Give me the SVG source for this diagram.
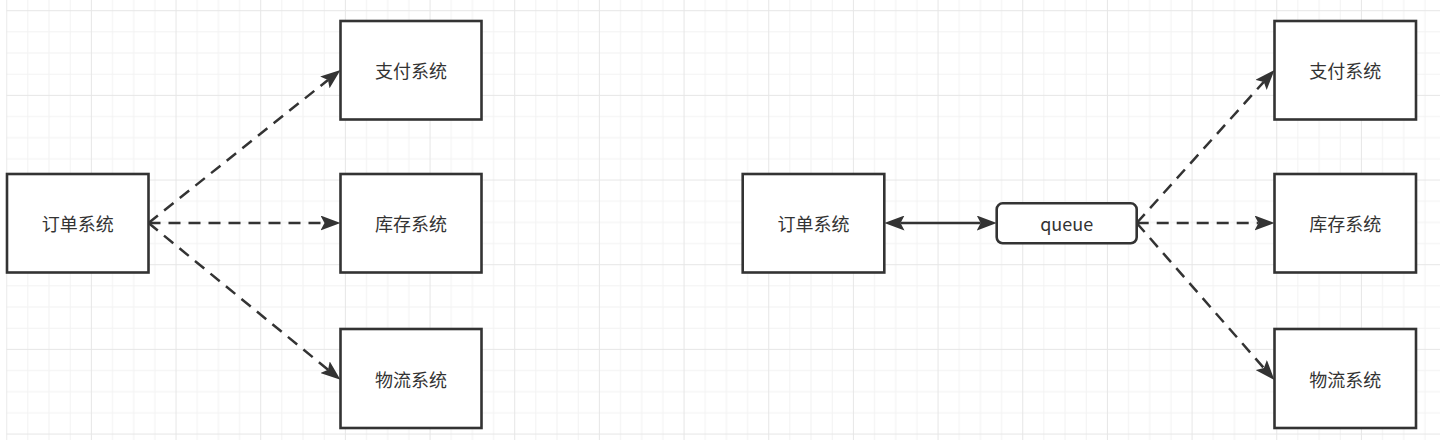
<svg xmlns="http://www.w3.org/2000/svg" width="1440" height="440" viewBox="0 0 1440 440">
<style>
.box{fill:#ffffff;stroke:#333333;stroke-width:2.6}
.lbl{font-family:"Noto Sans CJK SC","Liberation Sans",sans-serif;font-size:18px;fill:#333333;text-anchor:middle;dominant-baseline:central}
.dash{fill:none;stroke:#333333;stroke-width:2.5;stroke-dasharray:12 8}
.solid{fill:none;stroke:#333333;stroke-width:2.5}
</style>
<defs>
<pattern id="grid" x="6.2" y="10.2" width="84.67" height="84.67" patternUnits="userSpaceOnUse">
<rect x="21.17" y="0" width="1" height="84.67" fill="#f2f2f2"/>
<rect x="42.33" y="0" width="1" height="84.67" fill="#f2f2f2"/>
<rect x="63.5" y="0" width="1" height="84.67" fill="#f2f2f2"/>
<rect x="0" y="21.17" width="84.67" height="1" fill="#f2f2f2"/>
<rect x="0" y="42.33" width="84.67" height="1" fill="#f2f2f2"/>
<rect x="0" y="63.5" width="84.67" height="1" fill="#f2f2f2"/>
<rect x="0" y="0" width="1" height="84.67" fill="#e6e6e6"/>
<rect x="0" y="0" width="84.67" height="1" fill="#e6e6e6"/>
</pattern>
<marker id="arr" viewBox="0 0 20 15" refX="4" refY="7.5" markerWidth="20" markerHeight="15" markerUnits="userSpaceOnUse" orient="auto-start-reverse">
<path d="M0,0 L20,7.5 L0,15 L4,7.5 Z" fill="#333333"/>
</marker>
</defs>
<rect width="1440" height="440" fill="#ffffff"/>
<rect x="6.2" y="0" width="1434" height="440" fill="url(#grid)"/>

<g id="connectors">
<line class="dash" x1="148.5" y1="223" x2="328.0" y2="79.97" marker-end="url(#arr)"/>
<line class="dash" x1="148.5" y1="223" x2="324.5" y2="223" marker-end="url(#arr)"/>
<line class="dash" x1="148.5" y1="223" x2="328.07" y2="369.69" marker-end="url(#arr)"/>
<line class="solid" x1="900.5" y1="223" x2="980.7" y2="223" marker-start="url(#arr)" marker-end="url(#arr)"/>
<line class="dash" x1="1136.7" y1="223" x2="1263.79" y2="81.89" marker-end="url(#arr)"/>
<line class="dash" x1="1136.7" y1="223" x2="1258.5" y2="223" marker-end="url(#arr)"/>
<line class="dash" x1="1136.7" y1="223" x2="1263.89" y2="368.03" marker-end="url(#arr)"/>
</g>

<g id="order-left">
<rect class="box" x="7" y="174" width="141.5" height="98.5"/>
<text class="lbl" x="77.75" y="223">订单系统</text>
</g>
<g id="pay-left">
<rect class="box" x="340.5" y="21" width="141" height="98.5"/>
<text class="lbl" x="411" y="70">支付系统</text>
</g>
<g id="stock-left">
<rect class="box" x="340.5" y="174" width="141" height="98.5"/>
<text class="lbl" x="411" y="223">库存系统</text>
</g>
<g id="logistics-left">
<rect class="box" x="340.5" y="329" width="141" height="99"/>
<text class="lbl" x="411" y="378.5">物流系统</text>
</g>

<g id="order-right">
<rect class="box" x="742.7" y="174" width="141.6" height="98.5"/>
<text class="lbl" x="813.5" y="223">订单系统</text>
</g>
<g id="queue">
<rect class="box" x="996.7" y="203.3" width="140" height="40" rx="6" ry="6"/>
<text class="lbl" x="1066.7" y="223">queue</text>
</g>
<g id="pay-right">
<rect class="box" x="1274.5" y="21" width="141.5" height="98.5"/>
<text class="lbl" x="1345.25" y="70">支付系统</text>
</g>
<g id="stock-right">
<rect class="box" x="1274.5" y="174" width="141.5" height="98.5"/>
<text class="lbl" x="1345.25" y="223">库存系统</text>
</g>
<g id="logistics-right">
<rect class="box" x="1274.5" y="329" width="141.5" height="99"/>
<text class="lbl" x="1345.25" y="378.5">物流系统</text>
</g>
</svg>
